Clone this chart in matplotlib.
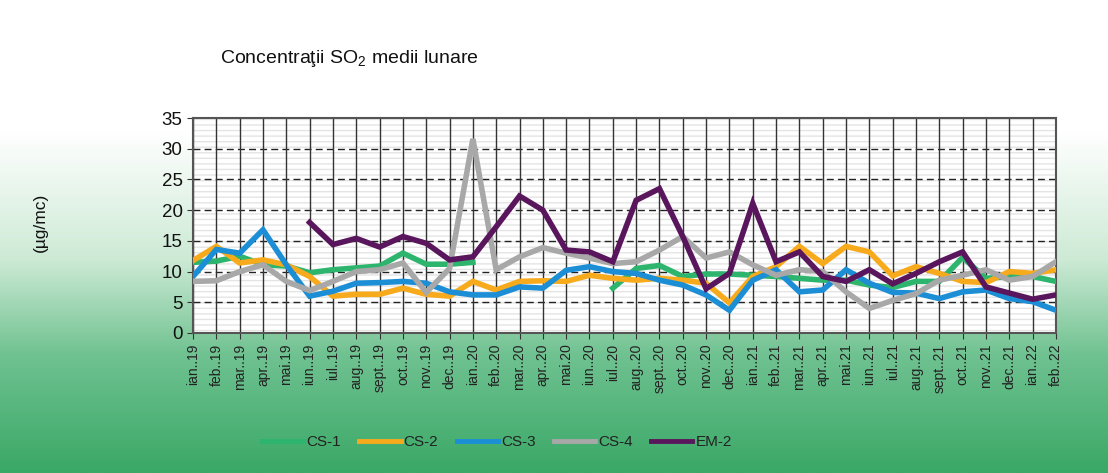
import numpy as np
import matplotlib
matplotlib.use("Agg")
import matplotlib.pyplot as plt
from matplotlib.patches import Rectangle
from matplotlib.colors import LinearSegmentedColormap

plt.rcParams["font.family"] = ["Liberation Sans", "DejaVu Sans"]
plt.rcParams["mathtext.fontset"] = "custom"
plt.rcParams["mathtext.rm"] = "Liberation Sans"

nan = np.nan
months = ["ian..19", "feb..19", "mar..19", "apr..19", "mai.19", "iun..19", "iul..19", "aug..19",
          "sept..19", "oct..19", "nov..19", "dec..19", "ian..20", "feb..20", "mar..20", "apr..20",
          "mai.20", "iun..20", "iul..20", "aug..20", "sept..20", "oct..20", "nov..20", "dec..20",
          "ian..21", "feb..21", "mar..21", "apr..21", "mai.21", "iun..21", "iul..21", "aug..21",
          "sept..21", "oct..21", "nov..21", "dec..21", "ian..22", "feb..22"]

cs1 = [11.5, 11.7, 12.5, 11.1, 10.9, 9.8, 10.3, 10.6, 10.9, 13.0, 11.2, 11.2, 11.5,
       nan, nan, nan, nan, nan, 7.3, 10.5, 11.0, 9.2, 9.6, 9.6, 9.4, 9.2, 8.9, 8.6,
       8.6, 7.8, 7.4, 8.4, 8.4, 12.3, 8.9, 9.2, 9.2, 8.4]
cs2 = [11.8, 14.1, 11.4, 11.9, 11.1, 9.2, 6.0, 6.3, 6.3, 7.3, 6.3, 6.0, 8.4, 7.0, 8.4,
       8.5, 8.4, 9.4, 8.9, 8.6, 8.9, 8.6, 8.1, 4.9, 9.2, 10.8, 14.1, 11.3, 14.1, 13.2,
       9.3, 10.8, 9.7, 8.4, 8.2, 10.0, 9.7, 10.3]
cs3 = [9.2, 13.6, 13.0, 16.8, 11.1, 6.0, 6.8, 8.1, 8.2, 8.4, 8.1, 6.7, 6.2, 6.2, 7.5,
       7.3, 10.2, 10.8, 10.0, 9.7, 8.6, 7.8, 6.2, 3.7, 8.6, 10.3, 6.7, 7.0, 10.3, 8.1,
       6.6, 6.5, 5.6, 6.7, 7.0, 5.6, 5.1, 3.7]
cs4 = [8.4, 8.5, 10.0, 11.1, 8.4, 6.9, 8.4, 10.0, 10.3, 11.4, 6.6, 10.5, 31.6, 10.3,
       12.4, 13.9, 13.0, 12.2, 11.3, 11.6, 13.5, 15.7, 12.2, 13.2, 11.1, 9.4, 10.3, 10.0,
       6.7, 4.0, 5.3, 6.4, 8.6, 9.4, 10.3, 8.6, 9.2, 11.6]
em2 = [nan, nan, nan, nan, nan, 18.0, 14.4, 15.4, 14.0, 15.7, 14.6, 11.9, 12.4, 17.3,
       22.3, 20.0, 13.5, 13.2, 11.6, 21.6, 23.5, 15.7, 7.2, 9.7, 21.1, 11.6, 13.2, 9.2,
       8.4, 10.3, 8.0, 9.7, 11.6, 13.2, 7.5, 6.5, 5.5, 6.2]

series = [("CS-1", cs1, "#2db56e"), ("CS-2", cs2, "#f7aa1c"), ("CS-3", cs3, "#1b8ed6"),
          ("CS-4", cs4, "#a8a8a8"), ("EM-2", em2, "#5a165c")]

fig = plt.figure(figsize=(11.08, 4.73), dpi=100)

# background gradient
bg = fig.add_axes([0, 0, 1, 1], zorder=-10)
cmap = LinearSegmentedColormap.from_list("bg", [(0.0, "#ffffff"), (0.28, "#ffffff"),
                                                (0.55, "#cdead5"), (0.75, "#70c291"),
                                                (1.0, "#3aa866")])
grad = np.linspace(0, 1, 256).reshape(-1, 1)
bg.imshow(grad, aspect="auto", cmap=cmap, extent=[0, 1, 0, 1], origin="upper")
bg.set_axis_off()

ax = fig.add_axes([0.1742, 0.296, 0.7788, 0.4545])
ax.set_facecolor("white")
plt.rcParams["hatch.color"] = "#e4e4e4"
ax.add_patch(Rectangle((0, 0), 1, 1, transform=ax.transAxes, facecolor="white",
                       edgecolor="#e4e4e4", hatch="---", lw=0, zorder=0))

x = np.arange(len(months))
for name, vals, col in series:
    ax.plot(x, vals, color=col, lw=4.0, label=name, solid_joinstyle="miter", zorder=3)

ax.set_xlim(0, len(months) - 1)
ax.set_ylim(0, 35)
ax.set_yticks(np.arange(0, 36, 5))
ax.set_xticks(x)
ax.set_xticklabels(months, rotation=90, fontsize=10, color="#222222")
ax.tick_params(axis="y", labelsize=13.5, length=4, direction="out", color="#333333", labelcolor="#111111")
ax.tick_params(axis="x", length=4, direction="out", color="#333333")
for v in range(5, 35, 5):
    ax.axhline(v, color="#222222", lw=1.0, ls=(0, (5, 3)), zorder=1)
for xi in x:
    ax.axvline(xi, color="#333333", lw=1.0, zorder=1)
for s in ax.spines.values():
    s.set_color("#555555")
    s.set_linewidth(1.5)

fig.text(220 / 1108, 1 - 58 / 473, "Concentraţii SO$_2$ medii lunare", fontsize=14,
         ha="left", va="center", color="#111111")
fig.text(40 / 1108, 1 - 222 / 473, "(µg/mc)", fontsize=12.5, rotation=90,
         ha="center", va="center", color="#111111")

leg = fig.legend(loc="center", bbox_to_anchor=(497 / 1108, 1 - 442 / 473), ncol=5, frameon=False,
                 fontsize=11, handlelength=2.7, handletextpad=0.2, columnspacing=1.2)
for h in leg.get_lines():
    h.set_linewidth(3.5)
for t in leg.get_texts():
    t.set_color("#222222")

fig.savefig("out.png", dpi=100)
